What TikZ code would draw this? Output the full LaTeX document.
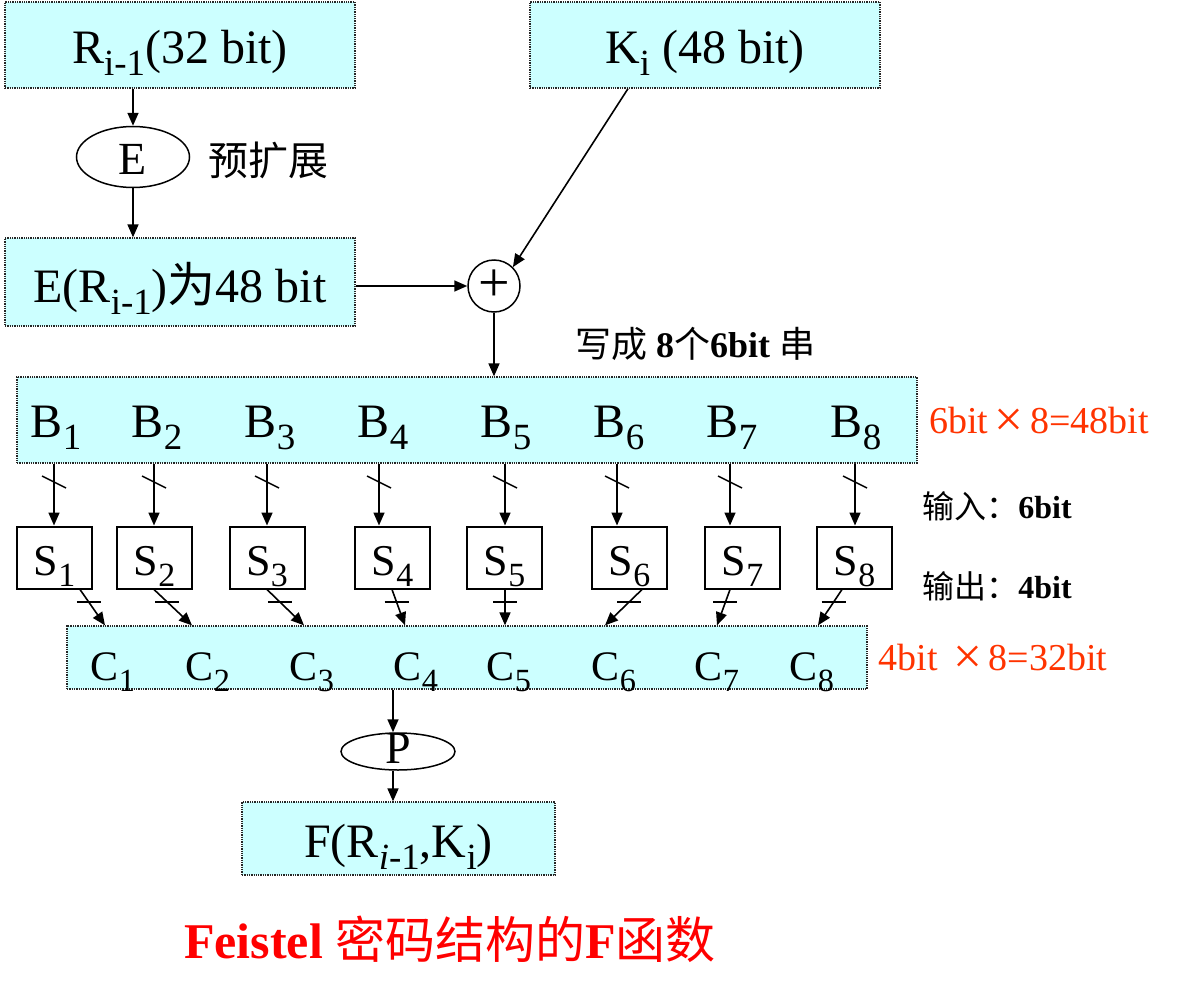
\documentclass[tikz,border=0pt]{standalone}
\usepackage{fontspec}
\usepackage{graphicx}
\setmainfont{Liberation Serif}
\newfontfamily\cjk{Noto Sans CJK SC}
\usetikzlibrary{shapes.geometric,arrows.meta}
\definecolor{boxcyan}{RGB}{204,255,255}
\definecolor{bitred}{RGB}{255,51,0}
\newcommand{\pxsize}[1]{\fontsize{#1}{#1}\selectfont}
\newcommand{\dsub}[1]{\raisebox{-0.27em}{\scalebox{0.77}{#1}}}
\newcommand{\btimes}{\,\raisebox{-0.1em}{\scalebox{1.35}{×}}\,}
\tikzset{
  cybox/.style={draw=black!85, densely dotted, line width=1.3pt, fill=boxcyan, inner sep=0pt,
    text height=36pt, text depth=0pt, font=\pxsize{48}},
  sbox/.style={draw, line width=2pt, minimum width=75pt, minimum height=62pt, inner sep=0pt,
    text height=35pt, text depth=0pt, font=\pxsize{44}},
  perm/.style={ellipse, draw, line width=1.5pt, inner sep=0pt, font=\pxsize{46}, text depth=0pt},
  arr/.style={-{Triangle[length=13pt,width=11pt]}, line width=1.6pt},
  slash/.style={line width=1.5pt},
}
\begin{document}
\begin{tikzpicture}[x=1pt, y=-1pt]
  \useasboundingbox (0,0) rectangle (1180,1001);
  % inputs
  \node[cybox, minimum width=350pt, minimum height=86pt] (rin) at (180,45) {R\dsub{i-1}(32 bit)};
  \node[cybox, minimum width=350pt, minimum height=86pt] (kin) at (705,45) {K\dsub{i} (48 bit)};
  % expansion E
  \node[perm, minimum width=113pt, minimum height=61pt, text height=35pt] (exp) at (133,157) {E};
  \node[anchor=base, font=\pxsize{40}\cjk] (exptxt) at (268,175) {预扩展};
  \node[cybox, minimum width=350pt, minimum height=88pt, text height=40pt] (er) at (180,282) {E(R\dsub{i-1}){\cjk 为}48 bit};
  \draw[arr] (rin.south -| exp) -- (exp.north);
  \draw[arr] (exp.south) -- (er.north -| exp);
  % xor with key
  \node[circle, draw, line width=1.5pt, minimum size=52pt, inner sep=0pt, font=\pxsize{56}] (xor) at (494,286) {+};
  \draw[arr] (er.east |- xor) -- (xor.west);
  \draw[arr] ([xshift=-77pt]kin.south) -- (xor.north east);
  \node[anchor=base, font=\pxsize{36}] (split) at (695,357) {{\cjk 写成} \textbf{8}{\cjk 个}\textbf{6bit} {\cjk 串}};
  % B row
  \node[cybox, minimum width=900pt, minimum height=86pt] (bbox) at (467,420) {};
  \draw[arr] (xor.south) -- (bbox.north -| xor);
  \foreach \i/\x in {1/56,2/157,3/270,4/383,5/506,6/619,7/732,8/856}
    \node[anchor=base, font=\pxsize{48}] (b\i) at (\x,437) {B\dsub{\i}};
  \node[anchor=base, font=\pxsize{38}, text=bitred] (bsum) at (1039,433) {6bit\btimes8=48bit};
  % S boxes
  \foreach \i/\x in {1/54.5,2/154.5,3/267,4/392.5,5/504.5,6/629.5,7/742.5,8/854.5}
    \node[sbox] (s\i) at (\x,557.5) {S\dsub{\i}};
  \foreach \i/\a in {1/54,2/154,3/267,4/379,5/505,6/617,7/730,8/855} {
    \coordinate (a\i) at (\a,0);
    \draw[arr] (bbox.south -| a\i) -- (s\i.north -| a\i);
    \draw[slash] (\a-12,476) -- (\a+12,488);
  }
  \node[anchor=base, font=\pxsize{32}] (sin) at (997,518) {{\cjk 输入：}\textbf{6bit}};
  \node[anchor=base, font=\pxsize{32}] (sout) at (997,598) {{\cjk 输出：}\textbf{4bit}};
  % C row
  \node[cybox, minimum width=800pt, minimum height=63pt] (cbox) at (467,657.5) {};
  \foreach \i/\x in {1/113,2/208,3/312,4/416,5/509,6/614,7/717,8/812}
    \node[anchor=base, font=\pxsize{42}] (c\i) at (\x,680) {C\dsub{\i}};
  \foreach \i/\f/\t in {1/25.5/105,2/-0.5/192,3/0/304,4/-0.5/405,5/0.5/505,6/12.5/605,7/-12.5/717,8/-12.5/818} {
    \coordinate (e\i) at (\t,0);
    \draw[arr] ([xshift=\f pt]s\i.south) -- coordinate[pos=0.35] (tk\i) (cbox.north -| e\i);
    \draw[slash] ([xshift=-12pt]tk\i) -- ([xshift=12pt]tk\i);
  }
  \node[anchor=base, font=\pxsize{38}, text=bitred] (csum) at (993,670) {4bit \btimes8=32bit};
  % permutation P and output
  \coordinate (pline) at (393,0);
  \node[perm, minimum width=114pt, minimum height=37pt, text height=23pt] (pnode) at (398,751.5) {P};
  \node[cybox, minimum width=313pt, minimum height=73pt, text height=37pt] (fout) at (398.5,838.5) {F(R\dsub{\textit{i}-1},K\dsub{i})};
  \draw[arr] (cbox.south -| pline) -- (pnode.north -| pline);
  \draw[arr] (pnode.south -| pline) -- (fout.north -| pline);
  \node[anchor=base, font=\pxsize{50}, text=red] (title) at (450,958) {\textbf{Feistel} {\cjk 密码结构的}\textbf{F}{\cjk 函数}};
\end{tikzpicture}
\end{document}
